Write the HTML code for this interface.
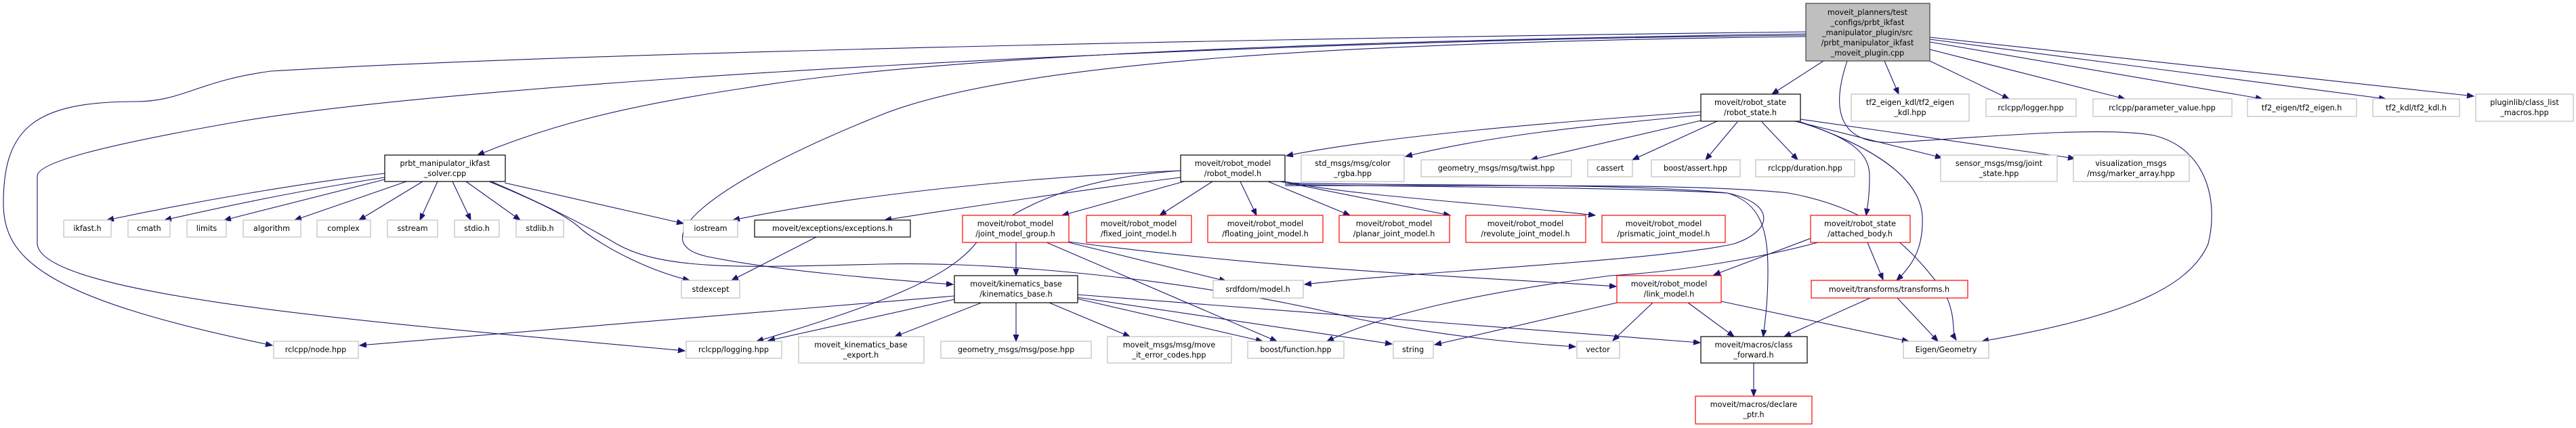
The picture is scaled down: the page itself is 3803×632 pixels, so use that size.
<!DOCTYPE html>
<html><head><meta charset="utf-8"><style>
html,body{margin:0;padding:0;background:#fff;}
svg{display:block;}
text{font-family:"DejaVu Sans","Liberation Sans",sans-serif;font-size:11.2px;fill:#000;text-anchor:middle;}
.e{fill:none;stroke:#191970;stroke-width:1.1;marker-end:url(#a);}
.g{fill:#fff;stroke:#bfbfbf;stroke-width:1.2;}
.b{fill:#fff;stroke:#000;stroke-width:1.2;}
.r{fill:#fff;stroke:#ff0000;stroke-width:1.2;}
</style></head><body>
<svg width="3803" height="632" viewBox="0 0 3803 632" xmlns="http://www.w3.org/2000/svg">
<defs><marker id="a" markerUnits="userSpaceOnUse" markerWidth="12" markerHeight="10" refX="10" refY="4" orient="auto"><path d="M0,0 L10,4 L0,8 z" fill="#191970" stroke="#191970"/></marker></defs>

<!-- edges from main -->
<path class="e" d="M2692,90 L2616,139"/>
<path class="e" d="M2782,90 L2803,139"/>
<path class="e" d="M2849,90 L2966,146"/>
<path class="e" d="M2849,73 L3137,146"/>
<path class="e" d="M2849,62 L3340,146"/>
<path class="e" d="M2849,58 L3522,146"/>
<path class="e" d="M2849,55 L3652,142"/>
<path class="e" d="M2727,90 C2700,170 2720,215 2800,210 C2900,205 3100,185 3180,200 C3260,220 3275,300 3260,360 C3230,430 3120,470 2926,504"/>
<path class="e" d="M2666,50 C2000,60 1400,80 1100,130 C900,160 800,190 705,229"/>
<path class="e" d="M2666,47 C2000,55 900,75 400,105 C290,120 270,150 200,150 C50,150 5,190 5,300 C5,380 60,440 402,510"/>
<path class="e" d="M2666,52 C1800,60 700,120 350,180 C150,215 55,240 55,260 L55,360 C60,440 600,480 1011,518"/>
<path class="e" d="M2666,54 C2000,62 1500,90 1300,170 C1050,270 940,360 1050,380 C1150,400 1300,412 1407,420"/>

<!-- prbt edges -->
<path class="e" d="M568,256 C450,270 300,295 158,325"/>
<path class="e" d="M568,262 C450,280 330,305 243,325"/>
<path class="e" d="M568,265 C470,290 390,310 331,325"/>
<path class="e" d="M600,268 L435,325"/>
<path class="e" d="M624,268 L530,325"/>
<path class="e" d="M646,268 L620,325"/>
<path class="e" d="M668,268 L695,325"/>
<path class="e" d="M688,268 L768,325"/>
<path class="e" d="M745,270 L1009,330"/>
<path class="e" d="M722,268 C800,300 840,320 860,340 C900,370 960,400 1018,414"/>
<path class="e" d="M725,268 C800,300 860,330 910,360 C980,400 1100,395 1300,390 C1500,385 1800,420 2000,470 C2150,500 2250,507 2326,512"/>

<!-- exceptions -->
<path class="e" d="M1205,350 L1080,414"/>

<!-- robot_model edges -->
<path class="e" d="M1743,252 C1500,262 1250,290 1082,325"/>
<path class="e" d="M1743,262 C1600,280 1400,310 1306,325"/>
<path class="e" d="M1743,252 C1600,262 1500,300 1440,360 C1400,410 1300,450 1117,504"/>
<path class="e" d="M1748,268 L1568,318"/>
<path class="e" d="M1790,268 L1712,318"/>
<path class="e" d="M1831,268 L1855,318"/>
<path class="e" d="M1872,268 L1993,318"/>
<path class="e" d="M1890,268 L2141,318"/>
<path class="e" d="M1897,268 C2000,290 2200,300 2355,318"/>
<path class="e" d="M1897,270 C2100,275 2400,270 2550,285 C2620,300 2620,340 2560,360 C2450,385 2100,400 1926,420"/>
<path class="e" d="M1897,272 C2100,277 2350,275 2550,285 C2600,300 2610,340 2610,400 C2610,450 2605,480 2603,497"/>
<path class="e" d="M1897,274 C2200,275 2500,270 2640,285 C2780,310 2830,380 2870,430 C2890,470 2880,490 2888,502"/>

<!-- joint_model_group -->
<path class="e" d="M1500,358 L1500,407"/>
<path class="e" d="M1545,358 L1885,504"/>
<path class="e" d="M1578,358 L1810,415"/>
<path class="e" d="M1578,357 C1900,400 2200,410 2386,423"/>

<!-- kinematics_base -->
<path class="e" d="M1409,437 L531,510"/>
<path class="e" d="M1409,442 L1134,503"/>
<path class="e" d="M1449,447 L1321,497"/>
<path class="e" d="M1500,447 L1500,504"/>
<path class="e" d="M1549,447 L1668,497"/>
<path class="e" d="M1590,441 L1864,504"/>
<path class="e" d="M1590,439 L2055,508"/>
<path class="e" d="M1590,435 L2510,506"/>

<!-- link_model -->
<path class="e" d="M2387,447 L2118,509"/>
<path class="e" d="M2440,447 L2381,503"/>
<path class="e" d="M2492,447 L2560,497"/>
<path class="e" d="M2541,445 L2818,504"/>

<!-- attached_body -->
<path class="e" d="M2673,352 L2530,406"/>
<path class="e" d="M2684,358 C2620,375 2500,400 2378,407 C2200,430 2050,460 1959,504"/>
<path class="e" d="M2757,358 L2780,413"/>

<!-- robot_state -->
<path class="e" d="M2511,165 C2300,180 2050,200 1899,230"/>
<path class="e" d="M2511,170 C2350,185 2200,200 2075,231"/>
<path class="e" d="M2511,178 L2260,236"/>
<path class="e" d="M2535,179 L2410,236"/>
<path class="e" d="M2565,180 L2518,236"/>
<path class="e" d="M2601,180 L2654,236"/>
<path class="e" d="M2650,179 L2867,233"/>
<path class="e" d="M2658,176 L3063,234"/>
<path class="e" d="M2655,180 C2740,205 2760,230 2760,260 C2760,290 2757,305 2755,318"/>
<path class="e" d="M2658,180 C2760,215 2835,260 2838,320 C2840,370 2820,395 2800,414"/>

<!-- transforms -->
<path class="e" d="M2761,440 L2634,497"/>
<path class="e" d="M2801,440 L2861,504"/>

<!-- class_forward -> declare -->
<path class="e" d="M2589,536 L2589,585"/>

<!-- nodes -->
<rect x="2666" y="5" width="183" height="85" fill="#bfbfbf" stroke="#404040" stroke-width="1.2"/>
<text x="2757" y="22">moveit_planners/test</text><text x="2757" y="37">_configs/prbt_ikfast</text><text x="2757" y="52">_manipulator_plugin/src</text><text x="2757" y="67">/prbt_manipulator_ikfast</text><text x="2757" y="82">_moveit_plugin.cpp</text>

<rect class="b" x="2511" y="139" width="147" height="40"/><text x="2584" y="155">moveit/robot_state</text><text x="2584" y="170">/robot_state.h</text>
<rect class="g" x="2733" y="139" width="174" height="40"/><text x="2820" y="155">tf2_eigen_kdl/tf2_eigen</text><text x="2820" y="170">_kdl.hpp</text>
<rect class="g" x="2932" y="146" width="133" height="26"/><text x="2998" y="163">rclcpp/logger.hpp</text>
<rect class="g" x="3090" y="146" width="205" height="26"/><text x="3192" y="163">rclcpp/parameter_value.hpp</text>
<rect class="g" x="3318" y="146" width="161" height="26"/><text x="3398" y="163">tf2_eigen/tf2_eigen.h</text>
<rect class="g" x="3503" y="146" width="128" height="26"/><text x="3567" y="163">tf2_kdl/tf2_kdl.h</text>
<rect class="g" x="3655" y="139" width="144" height="40"/><text x="3727" y="155">pluginlib/class_list</text><text x="3727" y="170">_macros.hpp</text>

<rect class="b" x="568" y="229" width="178" height="39"/><text x="657" y="245">prbt_manipulator_ikfast</text><text x="657" y="260">_solver.cpp</text>
<rect class="b" x="1743" y="229" width="154" height="39"/><text x="1820" y="245">moveit/robot_model</text><text x="1820" y="260">/robot_model.h</text>
<rect class="g" x="1921" y="229" width="152" height="39"/><text x="1997" y="245">std_msgs/msg/color</text><text x="1997" y="260">_rgba.hpp</text>
<rect class="g" x="2098" y="236" width="222" height="25"/><text x="2209" y="252">geometry_msgs/msg/twist.hpp</text>
<rect class="g" x="2344" y="236" width="66" height="25"/><text x="2377" y="252">cassert</text>
<rect class="g" x="2438" y="236" width="131" height="25"/><text x="2503" y="252">boost/assert.hpp</text>
<rect class="g" x="2592" y="236" width="146" height="25"/><text x="2665" y="252">rclcpp/duration.hpp</text>
<rect class="g" x="2865" y="229" width="172" height="39"/><text x="2951" y="245">sensor_msgs/msg/joint</text><text x="2951" y="260">_state.hpp</text>
<rect class="g" x="3061" y="229" width="171" height="39"/><text x="3146" y="245">visualization_msgs</text><text x="3146" y="260">/msg/marker_array.hpp</text>

<rect class="g" x="94" y="325" width="70" height="25"/><text x="129" y="341">ikfast.h</text>
<rect class="g" x="189" y="325" width="62" height="25"/><text x="220" y="341">cmath</text>
<rect class="g" x="276" y="325" width="58" height="25"/><text x="305" y="341">limits</text>
<rect class="g" x="359" y="325" width="85" height="25"/><text x="401" y="341">algorithm</text>
<rect class="g" x="468" y="325" width="79" height="25"/><text x="507" y="341">complex</text>
<rect class="g" x="572" y="325" width="74" height="25"/><text x="609" y="341">sstream</text>
<rect class="g" x="671" y="325" width="66" height="25"/><text x="704" y="341">stdio.h</text>
<rect class="g" x="762" y="325" width="70" height="25"/><text x="797" y="341">stdlib.h</text>
<rect class="g" x="1009" y="325" width="80" height="25"/><text x="1049" y="341">iostream</text>
<rect class="b" x="1114" y="325" width="230" height="25"/><text x="1229" y="341">moveit/exceptions/exceptions.h</text>

<rect class="r" x="1421" y="318" width="157" height="40"/><text x="1499" y="334">moveit/robot_model</text><text x="1499" y="349">/joint_model_group.h</text>
<rect class="r" x="1604" y="318" width="155" height="40"/><text x="1681" y="334">moveit/robot_model</text><text x="1681" y="349">/fixed_joint_model.h</text>
<rect class="r" x="1783" y="318" width="170" height="40"/><text x="1868" y="334">moveit/robot_model</text><text x="1868" y="349">/floating_joint_model.h</text>
<rect class="r" x="1977" y="318" width="163" height="40"/><text x="2058" y="334">moveit/robot_model</text><text x="2058" y="349">/planar_joint_model.h</text>
<rect class="r" x="2164" y="318" width="177" height="40"/><text x="2252" y="334">moveit/robot_model</text><text x="2252" y="349">/revolute_joint_model.h</text>
<rect class="r" x="2365" y="318" width="182" height="40"/><text x="2456" y="334">moveit/robot_model</text><text x="2456" y="349">/prismatic_joint_model.h</text>
<rect class="r" x="2673" y="318" width="147" height="40"/><text x="2746" y="334">moveit/robot_state</text><text x="2746" y="349">/attached_body.h</text>

<rect class="b" x="1409" y="407" width="182" height="40"/><text x="1500" y="423">moveit/kinematics_base</text><text x="1500" y="438">/kinematics_base.h</text>
<rect class="r" x="2387" y="407" width="154" height="40"/><text x="2464" y="423">moveit/robot_model</text><text x="2464" y="438">/link_model.h</text>
<rect class="g" x="1006" y="414" width="86" height="26"/><text x="1049" y="431">stdexcept</text>
<rect class="g" x="1791" y="414" width="133" height="26"/><text x="1857" y="431">srdfdom/model.h</text>
<rect class="r" x="2674" y="414" width="231" height="26"/><text x="2789" y="431">moveit/transforms/transforms.h</text>

<rect class="g" x="404" y="504" width="125" height="25"/><text x="466" y="520">rclcpp/node.hpp</text>
<rect class="g" x="1013" y="504" width="141" height="25"/><text x="1083" y="520">rclcpp/logging.hpp</text>
<rect class="g" x="1179" y="497" width="185" height="39"/><text x="1271" y="513">moveit_kinematics_base</text><text x="1271" y="528">_export.h</text>
<rect class="g" x="1389" y="504" width="222" height="25"/><text x="1500" y="520">geometry_msgs/msg/pose.hpp</text>
<rect class="g" x="1635" y="497" width="183" height="39"/><text x="1726" y="513">moveit_msgs/msg/move</text><text x="1726" y="528">_it_error_codes.hpp</text>
<rect class="g" x="1842" y="504" width="142" height="25"/><text x="1913" y="520">boost/function.hpp</text>
<rect class="g" x="2057" y="504" width="59" height="25"/><text x="2086" y="520">string</text>
<rect class="g" x="2328" y="504" width="63" height="25"/><text x="2359" y="520">vector</text>
<rect class="b" x="2511" y="497" width="157" height="39"/><text x="2589" y="513">moveit/macros/class</text><text x="2589" y="528">_forward.h</text>
<rect class="g" x="2810" y="504" width="126" height="25"/><text x="2873" y="520">Eigen/Geometry</text>
<rect class="r" x="2503" y="585" width="172" height="41"/><text x="2589" y="601">moveit/macros/declare</text><text x="2589" y="616">_ptr.h</text>
</svg>
</body></html>
